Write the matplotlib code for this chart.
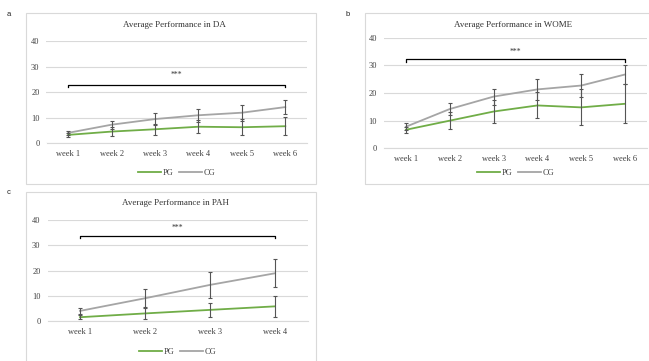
import matplotlib.pyplot as plt
from matplotlib.patches import Rectangle

plt.rcParams["font.family"] = ["Liberation Serif", "DejaVu Serif"]

weeks6 = ["week 1", "week 2", "week 3", "week 4", "week 5", "week 6"]
weeks4 = ["week 1", "week 2", "week 3", "week 4"]

# DA
da_pg = [3.3, 4.6, 5.5, 6.5, 6.3, 6.7]
da_pg_err = [0.8, 1.8, 2.1, 2.6, 3.2, 3.5]
da_cg = [4.1, 7.3, 9.5, 11.0, 12.0, 14.2]
da_cg_err = [0.9, 1.6, 2.3, 2.6, 3.2, 2.8]

# WOME
wome_pg = [6.7, 10.0, 13.3, 15.5, 14.8, 16.1]
wome_pg_err = [1.0, 3.1, 4.3, 4.7, 6.5, 7.1]
wome_cg = [7.8, 14.2, 18.7, 21.3, 22.7, 26.7]
wome_cg_err = [1.2, 2.2, 2.9, 3.9, 4.3, 3.3]

# PAH
pah_pg = [1.5, 3.0, 4.4, 5.8]
pah_pg_err = [0.8, 2.2, 2.7, 4.2]
pah_cg = [4.0, 9.0, 14.3, 18.9]
pah_cg_err = [1.3, 3.5, 5.0, 5.5]

green = "#70AD47"
gray = "#A5A5A5"
errc = "#555555"
gridc = "#D9D9D9"
textc = "#404040"

fig = plt.figure(figsize=(6.49, 3.61), dpi=100)

# panel frames
for x0, y0, w, h in [(26, 13, 290, 171), (365, 13, 300, 171), (26, 192, 290, 180)]:
    fig.patches.append(Rectangle((x0 / 649, 1 - (y0 + h) / 361), w / 649, h / 361,
                                 transform=fig.transFigure, fill=False,
                                 edgecolor=gridc, linewidth=0.8))

for lab, px, py in [("a", 9, 14), ("b", 348, 14), ("c", 9, 193)]:
    fig.text(px / 649, 1 - py / 361, lab, fontsize=5.5, family="Liberation Sans",
             ha="center", va="center", color="#222222")


def panel(rect, cats, pg, pg_err, cg, cg_err, title, bracket_y, star_y, title_y, leg_y):
    ax = fig.add_axes(rect)
    x = list(range(len(cats)))
    ax.plot(x, pg, color=green, lw=1.3, zorder=3, label="PG")
    ax.plot(x, cg, color=gray, lw=1.3, zorder=3, label="CG")
    ax.errorbar(x, pg, yerr=pg_err, fmt="none", ecolor=errc, elinewidth=0.8,
                capsize=1.5, capthick=0.8, zorder=4)
    ax.errorbar(x, cg, yerr=cg_err, fmt="none", ecolor=errc, elinewidth=0.8,
                capsize=1.5, capthick=0.8, zorder=4)
    # significance bracket
    ax.plot([0, 0, x[-1], x[-1]], [bracket_y - 0.9, bracket_y, bracket_y, bracket_y - 0.9],
            color="black", lw=0.9, zorder=5)
    ax.text(x[-1] / 2, star_y, "***", ha="center", va="center", fontsize=5.5, color="#333333")
    ax.set_xlim(-0.5, len(cats) - 0.5)
    ax.set_ylim(0, 40)
    ax.set_yticks([0, 10, 20, 30, 40])
    ax.set_xticks(x)
    ax.set_xticklabels(cats)
    ax.yaxis.grid(True, color=gridc, lw=0.8)
    ax.set_axisbelow(True)
    for s in ["top", "right", "left"]:
        ax.spines[s].set_visible(False)
    ax.spines["bottom"].set_color(gridc)
    ax.spines["bottom"].set_linewidth(0.8)
    ax.tick_params(length=0, labelsize=6, colors=textc, pad=5)
    ax.set_facecolor("none")
    fig.text(rect[0] + rect[2] / 2 - 0.003, title_y, title, ha="center", va="center",
             fontsize=6.5, color="#333333")
    h, l = ax.get_legend_handles_labels()
    fig.legend(h, l, loc="center", bbox_to_anchor=(rect[0] + rect[2] / 2, leg_y), ncol=2,
               frameon=False, fontsize=6, handlelength=2.8, columnspacing=0.6,
               handletextpad=0.2, labelcolor=textc)
    return ax


panel([46.5 / 649, 1 - 143.3 / 361, 260.5 / 649, 102 / 361], weeks6,
      da_pg, da_pg_err, da_cg, da_cg_err, "Average Performance in DA",
      22.9, 26.8, 1 - 25 / 361, 1 - 173 / 361)
panel([384 / 649, 1 - 148.3 / 361, 263 / 649, 110.6 / 361], weeks6,
      wome_pg, wome_pg_err, wome_cg, wome_cg_err, "Average Performance in WOME",
      32.2, 34.9, 1 - 25 / 361, 1 - 173 / 361)
panel([47.5 / 649, 1 - 321 / 361, 260 / 649, 101 / 361], weeks4,
      pah_pg, pah_pg_err, pah_cg, pah_cg_err, "Average Performance in PAH",
      33.8, 37.0, 1 - 203 / 361, 1 - 352 / 361)

fig.savefig("out.png", dpi=100)
